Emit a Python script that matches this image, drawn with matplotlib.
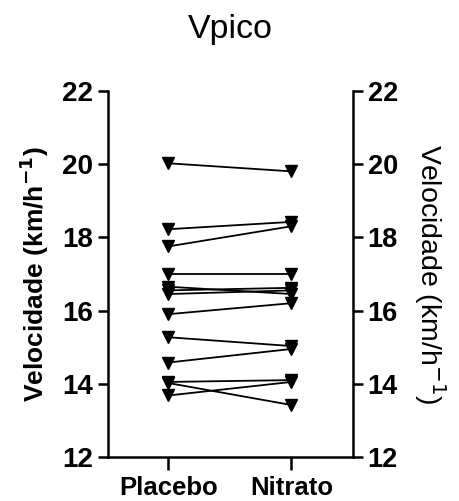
import matplotlib.pyplot as plt

plt.rcParams['font.family'] = ['Liberation Sans', 'DejaVu Sans']

# data
groups = ['Placebo', 'Nitrato']
placebo = [20.02, 18.22, 17.75, 17.00, 16.65, 16.55, 16.45, 15.90, 15.27, 14.58, 14.05, 14.02, 13.68]
nitrato = [19.80, 18.42, 18.30, 17.00, 16.45, 16.62, 16.55, 16.20, 15.03, 14.95, 14.10, 13.42, 14.05]
yticks = [12, 14, 16, 18, 20, 22]

fig = plt.figure(figsize=(4.59, 5.01), dpi=100)
ax = fig.add_axes([0.2353, 0.0878, 0.5338, 0.731])

x = list(range(len(groups)))
for a, b in zip(placebo, nitrato):
    ax.plot(x, [a, b], color='black', lw=1.3, marker='v', markersize=8.5,
            markerfacecolor='black', markeredgecolor='black', clip_on=False)

ax.set_xlim(-0.49, 1.5)
ax.set_ylim(12, 22)
ax.set_xticks(x)
ax.set_xticklabels(groups, fontsize=18.5, fontweight='bold')
ax.set_yticks(yticks)
ax.set_yticklabels([str(t) for t in yticks], fontsize=20, fontweight='bold')
ax.set_ylabel('Velocidade (km/h$^{\\mathbf{-1}}$)', fontsize=19, fontweight='bold', labelpad=8)
ax.set_title('Vpico', fontsize=24.5, pad=38)

for s in ['top', 'right']:
    ax.spines[s].set_visible(False)
for s in ['left', 'bottom']:
    ax.spines[s].set_linewidth(1.8)
ax.tick_params(axis='y', direction='out', length=7.5, width=1.8, pad=3)
ax.tick_params(axis='x', direction='out', length=9, width=1.8, pad=4.5)

ax2 = ax.twinx()
ax2.set_ylim(12, 22)
ax2.set_yticks(yticks)
ax2.set_yticklabels([str(t) for t in yticks], fontsize=19.5, fontweight='bold')
ax2.set_ylabel('Velocidade (km/h$^{-1}$)', fontsize=20.5, rotation=270, labelpad=36)
for s in ['top', 'left', 'bottom']:
    ax2.spines[s].set_visible(False)
ax2.spines['right'].set_linewidth(1.8)
ax2.tick_params(axis='y', direction='out', length=7.5, width=1.8, pad=3)

fig.savefig('out.png', dpi=100)
